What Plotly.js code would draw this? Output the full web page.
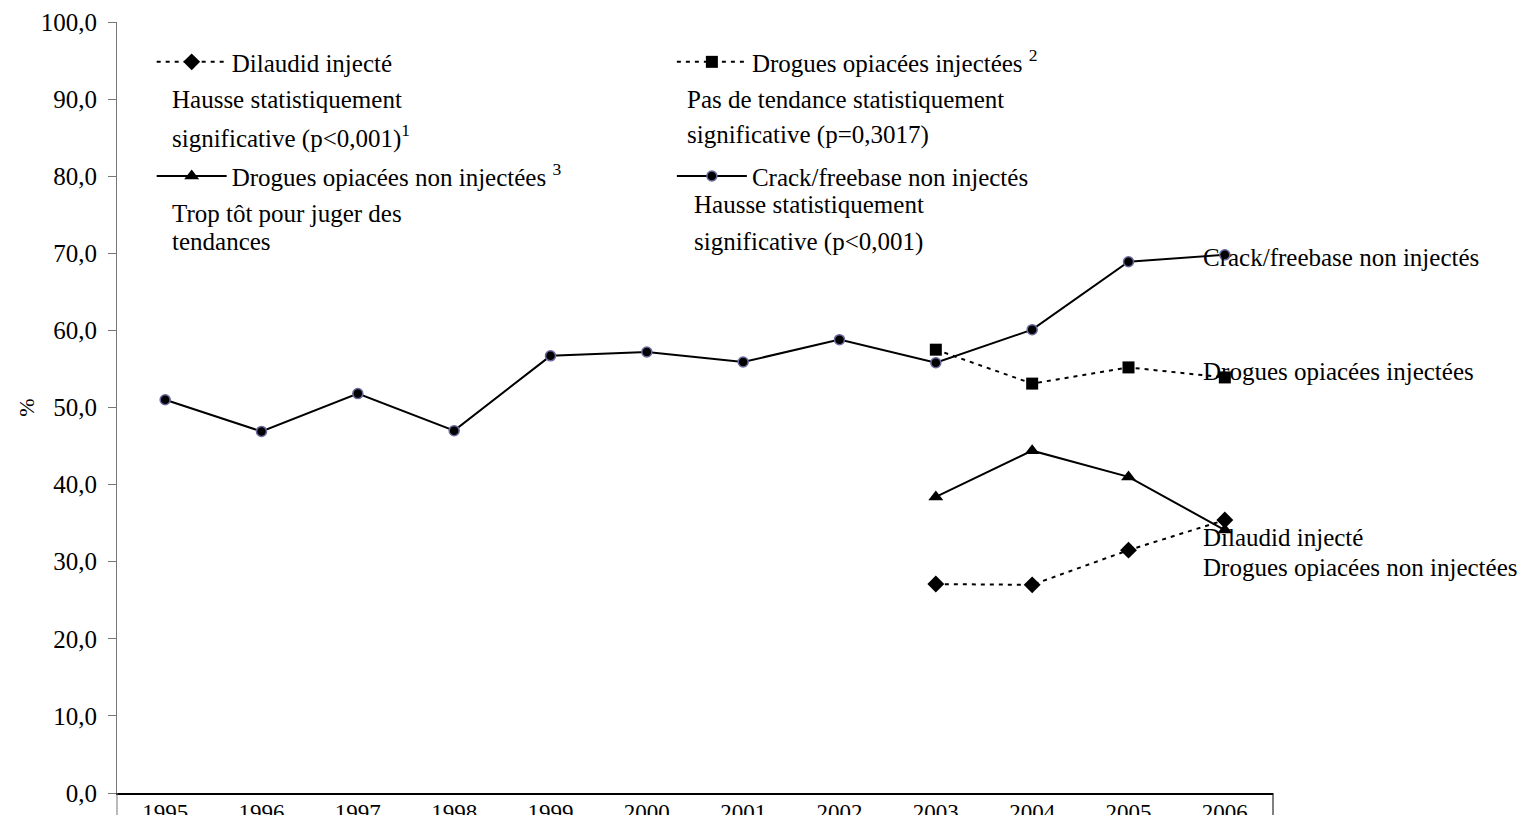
<!DOCTYPE html>
<html>
<head>
<meta charset="utf-8">
<script src="https://cdn.plot.ly/plotly-3.0.1.min.js"></script>
<style>
  html, body { margin: 0; padding: 0; background: #fff; }
  #chart { width: 1540px; height: 815px; }
</style>
</head>
<body>
<div id="chart"></div>
<script>
// annees et series (en %)
const annees = ['1995', '1996', '1997', '1998', '1999', '2000', '2001', '2002', '2003', '2004', '2005', '2006'];
const crack = [51.0, 46.9, 51.8, 47.0, 56.7, 57.2, 55.9, 58.8, 55.8, 60.1, 68.9, 69.8];
const anneesRecentes = ['2003', '2004', '2005', '2006'];
const opiacesInjectes = [57.5, 53.1, 55.2, 53.9];
const opiacesNonInjectes = [38.4, 44.4, 41.0, 34.1];
const dilaudid = [27.1, 27.0, 31.5, 35.4];
const yTicks = [0, 10, 20, 30, 40, 50, 60, 70, 80, 90, 100];

const police = 'Liberation Serif, Times New Roman, serif';
const taille = 25;
const pointille = '4px,5px';

const traces = [
    {
        x: anneesRecentes, y: dilaudid, type: 'scatter', mode: 'lines+markers',
        name: 'Dilaudid injecté', legend: 'legend', showlegend: true,
        line: { color: '#000', width: 2, dash: pointille },
        marker: { symbol: 'diamond', size: 13, color: '#000' }
    },
    {
        x: anneesRecentes, y: opiacesInjectes, type: 'scatter', mode: 'lines+markers',
        name: 'Drogues opiacées injectées <sup>2</sup>', legend: 'legend2', showlegend: true,
        line: { color: '#000', width: 2, dash: pointille },
        marker: { symbol: 'square', size: 12, color: '#000' }
    },
    {
        x: anneesRecentes, y: opiacesNonInjectes, type: 'scatter', mode: 'lines+markers',
        name: 'Drogues opiacées non injectées <sup>3</sup>', legend: 'legend3', showlegend: true,
        line: { color: '#000', width: 2 },
        marker: { symbol: 'triangle-up', size: 13, color: '#000' }
    },
    {
        x: annees, y: crack, type: 'scatter', mode: 'lines+markers',
        name: 'Crack/freebase non injectés', legend: 'legend4', showlegend: true,
        line: { color: '#000', width: 2 },
        marker: { symbol: 'circle', size: 10, color: '#000', line: { color: '#6a6a9e', width: 1.5 } }
    }
];

// position commune des legendes
function legende(x, y) {
    return {
        x: x, y: y, xanchor: 'left', yanchor: 'middle',
        bgcolor: 'rgba(0,0,0,0)', borderwidth: 0,
        itemwidth: 70, itemclick: false, itemdoubleclick: false,
        font: { family: police, size: taille, color: '#000' }
    };
}

function texte(t, x, y) {
    return {
        text: t, xref: 'paper', yref: 'paper', x: x, y: y,
        xanchor: 'left', yanchor: 'middle', showarrow: false,
        font: { family: police, size: taille, color: '#000' }
    };
}

// etiquettes en bout de courbe (axe categoriel : position par indice)
const dernier = annees.indexOf('2006');
function etiquette(t, y) {
    return {
        text: t, xref: 'x', yref: 'y', x: dernier, y: y,
        xanchor: 'left', yanchor: 'middle', xshift: -24, showarrow: false,
        font: { family: police, size: taille, color: '#000' }
    };
}

const layout = {
    width: 1540,
    height: 815,
    margin: { l: 117, r: 267, t: 22, b: 22 },
    paper_bgcolor: '#fff',
    plot_bgcolor: '#fff',
    font: { family: police, size: taille, color: '#000' },
    hovermode: false,
    showlegend: true,
    xaxis: {
        type: 'category',
        categoryorder: 'array',
        categoryarray: annees,
        range: [-0.5, 11.5],
        showgrid: false,
        zeroline: false,
        showline: true,
        linecolor: '#000',
        linewidth: 2,
        ticks: '',
        ticklabelstandoff: -3,
        automargin: false,
        tickfont: { family: police, size: 23, color: '#000' }
    },
    yaxis: {
        range: [0, 100],
        tickvals: yTicks,
        ticktext: yTicks.map(v => v.toFixed(1).replace('.', ',')),
        showgrid: false,
        zeroline: false,
        showline: true,
        linecolor: '#777',
        linewidth: 1,
        ticks: 'outside',
        ticklen: 8,
        tickcolor: '#777',
        ticklabelstandoff: 6,
        automargin: false,
        tickfont: { family: police, size: taille, color: '#000' },
        title: { text: '%', standoff: 0, font: { family: police, size: 22, color: '#000' } }
    },
    legend: legende(0.030, 0.948),
    legend2: legende(0.480, 0.948),
    legend3: legende(0.030, 0.800),
    legend4: legende(0.480, 0.800),
    annotations: [
        texte('Hausse statistiquement', 0.046, 0.899),
        texte('significative (p<0,001)<sup>1</sup>', 0.046, 0.851),
        texte('Trop tôt pour juger des', 0.046, 0.752),
        texte('tendances', 0.046, 0.715),
        texte('Pas de tendance statistiquement', 0.491, 0.899),
        texte('significative (p=0,3017)', 0.491, 0.853),
        texte('Hausse statistiquement', 0.497, 0.763),
        texte('significative (p<0,001)', 0.497, 0.715),
        etiquette('Crack/freebase non injectés', 69.5),
        etiquette('Drogues opiacées injectées', 54.7),
        etiquette('Dilaudid injecté', 33.2),
        etiquette('Drogues opiacées non injectées', 29.2)
    ],
    shapes: [
        // prolongements verticaux aux extremites de l'axe des x
        { type: 'line', xref: 'paper', yref: 'paper', x0: 0, x1: 0, y0: 0, y1: -0.05, line: { color: '#777', width: 1 } },
        { type: 'line', xref: 'paper', yref: 'paper', x0: 1, x1: 1, y0: 0, y1: -0.05, line: { color: '#000', width: 1 } }
    ]
};

Plotly.newPlot('chart', traces, layout, { displayModeBar: false, staticPlot: true });
</script>
</body>
</html>
